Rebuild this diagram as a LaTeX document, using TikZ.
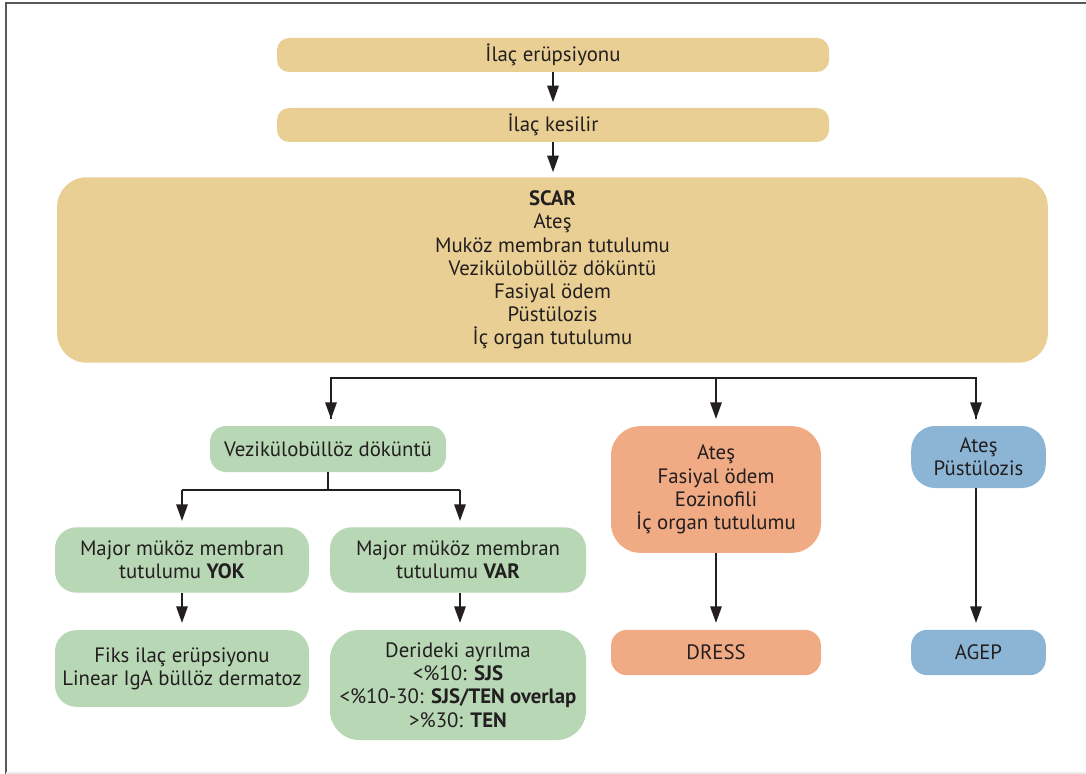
\documentclass[tikz,border=0pt]{standalone}
\usepackage{fontspec}
\setmainfont{PT Sans}
\usetikzlibrary{arrows.meta}
\definecolor{beige}{HTML}{E9CF93}
\definecolor{lgreen}{HTML}{B7D7B5}
\definecolor{salmon}{HTML}{F0AA84}
\definecolor{lblue}{HTML}{8CB5D5}
\definecolor{ink}{HTML}{231F20}
\tikzset{
  box/.style={rounded corners=#1, align=center, text=ink, inner sep=0pt,
    font=\fontsize{15.6}{17.4}\selectfont},
  conn/.style={draw=ink, line width=1.6pt},
  arr/.style={conn, -{Triangle[length=12.5pt,width=8.5pt]}},
}
\begin{document}
\begin{tikzpicture}[x=0.75pt,y=-0.75pt]
\useasboundingbox (0,0) rectangle (1086,774);
% frame
\draw[draw=black!65, line width=1.5pt] (6,774) -- (6,3) -- (1086,3);
\draw[draw=black!8, line width=0.8pt] (6,773) -- (1086,773);
% nodes
\node[box=9pt, fill=beige, minimum width=414pt, minimum height=25.5pt] (a) at (553,55) {İlaç erüpsiyonu};
\node[box=9pt, fill=beige, minimum width=414pt, minimum height=25.5pt] (b) at (553,125) {İlaç kesilir};
\node[box=22pt, fill=beige, minimum width=743pt, minimum height=139pt] (scar) at (552.5,270) {\textbf{SCAR}\\Ateş\\Muköz membran tutulumu\\Vezikülobüllöz döküntü\\Fasiyal ödem\\Püstülozis\\İç organ tutulumu};
\node[box=12pt, fill=lgreen, minimum width=177pt, minimum height=34.5pt] (vez) at (328,449) {Vezikülobüllöz döküntü};
\node[box=16pt, fill=lgreen, minimum width=190.5pt, minimum height=49pt] (yok) at (182,560) {Major müköz membran\\tutulumu \textbf{YOK}};
\node[box=16pt, fill=lgreen, minimum width=192pt, minimum height=49pt] (var) at (458,560) {Major müköz membran\\tutulumu \textbf{VAR}};
\node[box=16pt, fill=lgreen, minimum width=190.5pt, minimum height=57.5pt] (fiks) at (182,668.5) {Fiks ilaç erüpsiyonu\\Linear IgA büllöz dermatoz};
\node[box=22pt, fill=lgreen, minimum width=192pt, minimum height=82.5pt] (deri) at (458,685) {Derideki ayrılma\\<\%10: \textbf{SJS}\\<\%10-30: \textbf{SJS/TEN overlap}\\>\%30: \textbf{TEN}};
\node[box=22pt, fill=salmon, minimum width=157.5pt, minimum height=95pt] (dsym) at (716,489.5) {Ateş\\Fasiyal ödem\\Eozinofili\\İç organ tutulumu};
\node[box=12pt, fill=salmon, minimum width=157.5pt, minimum height=34pt] (dress) at (716,652.5) {DRESS};
\node[box=18pt, fill=lblue, minimum width=101pt, minimum height=46.5pt] (asym) at (978.5,457) {Ateş\\Püstülozis};
\node[box=12pt, fill=lblue, minimum width=101pt, minimum height=34pt] (agep) at (978.5,652.5) {AGEP};
% connectors
\draw[arr] (a.south) -- ++(0,30);
\draw[arr] (b.south) -- ++(0,30);
\coordinate (hl) at (331,378);
\coordinate (hr) at (976,378);
\draw[conn] (331,419) -- (hl) -- (hr) -- (976,419);
\draw[arr] (hl) -- (331,419);
\draw[arr] (716,378) -- (716,419);
\draw[arr] (hr) -- (976,419);
\coordinate (vj) at (328,490);
\draw[conn] (vez.south) -- (vj);
\draw[conn] (182,490) -- (460,490);
\draw[arr] (182,490) -- (182,521);
\draw[arr] (460,490) -- (460,521);
\draw[arr] (yok.south) -- (182,623);
\draw[arr] (var.south -| 460,0) -- (460,623);
\draw[arr] (dsym.south) -- (716,623);
\draw[arr] (976,488) -- (976,623);
\end{tikzpicture}
\end{document}
